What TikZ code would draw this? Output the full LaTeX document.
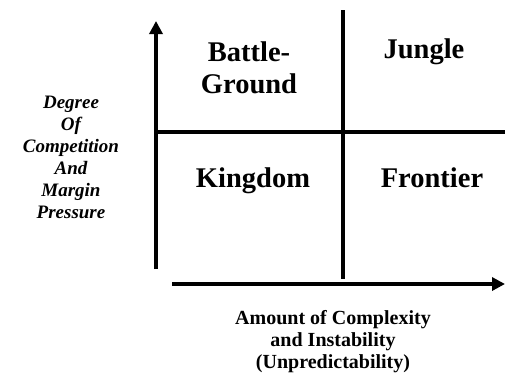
\documentclass[tikz,border=0pt]{standalone}
\usepackage{fontspec}
\setmainfont{Liberation Serif}
\usetikzlibrary{arrows.meta}
\begin{document}
\begin{tikzpicture}[x=1pt,y=-1pt,
  axis/.style={line width=4.5pt,-{Triangle[length=13pt,width=13pt]}},
  divider/.style={line width=4pt},
  quadlabel/.style={font=\fontsize{28.5}{32}\selectfont\bfseries,align=center},
  ylabel/.style={font=\fontsize{19}{22}\selectfont\bfseries\itshape,align=center},
  xlabel/.style={font=\fontsize{20}{22}\selectfont\bfseries,align=center}]
\useasboundingbox (0,0) rectangle (505,376);
% axes
\coordinate (yfrom) at (156,269);
\coordinate (yto) at (156,21);
\coordinate (xfrom) at (172,284);
\coordinate (xto) at (505,284);
\draw[axis] (yfrom) -- (yto);
\draw[axis] (xfrom) -- (xto);
% quadrant dividers
\coordinate (vtop) at (343,10);
\coordinate (vbot) at (343,279);
\coordinate (hleft) at (156,132);
\coordinate (hright) at (505,132);
\draw[divider] (vtop) -- (vbot);
\draw[divider] (hleft) -- (hright);
% quadrant labels
\node[quadlabel] (battle) at (249,68) {Battle-\\Ground};
\node[quadlabel] (jungle) at (424,52) {Jungle};
\node[quadlabel] (kingdom) at (253,181) {Kingdom};
\node[quadlabel] (frontier) at (432,178) {Frontier};
% axis labels
\node[ylabel] (ytitle) at (71,157) {Degree\\Of\\Competition\\And\\Margin\\Pressure};
\node[xlabel] (xtitle) at (333,342) {Amount of Complexity\\and Instability\\(Unpredictability)};
\end{tikzpicture}
\end{document}
